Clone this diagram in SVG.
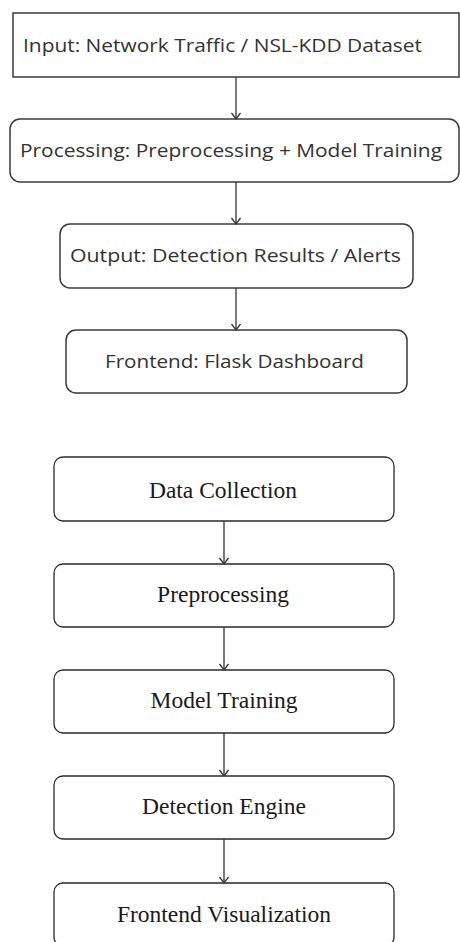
<svg xmlns="http://www.w3.org/2000/svg" width="460" height="942" viewBox="0 0 460 942">
  <style>
    .box1 { fill: #ffffff; stroke: #3a3a3a; stroke-width: 1.5; }
    .box2 { fill: #ffffff; stroke: #2a2a2a; stroke-width: 1.3; }
    .t1 { font-family: "Open Sans", "Noto Sans", sans-serif; font-size: 18px; fill: #333333; text-anchor: start; }
    .t2 { font-family: "Liberation Serif", "Times New Roman", serif; font-size: 23.5px; fill: #1a1a1a; text-anchor: middle; }
    .conn { stroke: #333333; stroke-width: 1.3; fill: none; }
  </style>
  <defs>
    <marker id="chev" markerUnits="userSpaceOnUse" markerWidth="12" markerHeight="12" viewBox="0 0 12 12" refX="8" refY="6" orient="auto">
      <path d="M2,1.5 L8,6 L2,10.5" fill="none" stroke="#333333" stroke-width="1.3"/>
    </marker>
  </defs>

  <rect width="460" height="942" fill="#ffffff"/>

  <!-- upper flow: system layers -->
  <g id="input">
    <rect class="box1" x="13" y="13" width="446" height="64"/>
    <text class="t1" x="23" y="52" textLength="399" lengthAdjust="spacingAndGlyphs">Input: Network Traffic / NSL-KDD Dataset</text>
  </g>
  <g id="processing">
    <rect class="box1" x="10" y="119" width="449" height="63" rx="10" ry="10"/>
    <text class="t1" x="20" y="157" textLength="422" lengthAdjust="spacingAndGlyphs">Processing: Preprocessing + Model Training</text>
  </g>
  <g id="output">
    <rect class="box1" x="60" y="224" width="353" height="64" rx="10" ry="10"/>
    <text class="t1" x="70" y="262" textLength="331" lengthAdjust="spacingAndGlyphs">Output: Detection Results / Alerts</text>
  </g>
  <g id="frontend">
    <rect class="box1" x="66" y="330" width="341" height="63" rx="10" ry="10"/>
    <text class="t1" x="105" y="368" textLength="259" lengthAdjust="spacingAndGlyphs">Frontend: Flask Dashboard</text>
  </g>

  <!-- lower flow: processing stages -->
  <g id="data-collection">
    <rect class="box2" x="54" y="457" width="340" height="64" rx="9" ry="9"/>
    <text class="t2" x="223" y="498">Data Collection</text>
  </g>
  <g id="preprocessing">
    <rect class="box2" x="54" y="564" width="340" height="63" rx="9" ry="9"/>
    <text class="t2" x="223" y="602">Preprocessing</text>
  </g>
  <g id="model-training">
    <rect class="box2" x="54" y="670" width="340" height="63" rx="9" ry="9"/>
    <text class="t2" x="224" y="708">Model Training</text>
  </g>
  <g id="detection-engine">
    <rect class="box2" x="54" y="776" width="340" height="63" rx="9" ry="9"/>
    <text class="t2" x="224" y="814">Detection Engine</text>
  </g>
  <g id="frontend-visualization">
    <rect class="box2" x="54" y="883" width="340" height="63" rx="9" ry="9"/>
    <text class="t2" x="224" y="922">Frontend Visualization</text>
  </g>

  <g id="connectors">
    <line class="conn" x1="236" y1="77" x2="236" y2="119" marker-end="url(#chev)"/>
    <line class="conn" x1="236" y1="182" x2="236" y2="224" marker-end="url(#chev)"/>
    <line class="conn" x1="236" y1="288" x2="236" y2="330" marker-end="url(#chev)"/>

    <line class="conn" x1="224" y1="521" x2="224" y2="564" marker-end="url(#chev)"/>
    <line class="conn" x1="224" y1="627" x2="224" y2="670" marker-end="url(#chev)"/>
    <line class="conn" x1="224" y1="733" x2="224" y2="776" marker-end="url(#chev)"/>
    <line class="conn" x1="224" y1="839" x2="224" y2="883" marker-end="url(#chev)"/>
  </g>
</svg>
